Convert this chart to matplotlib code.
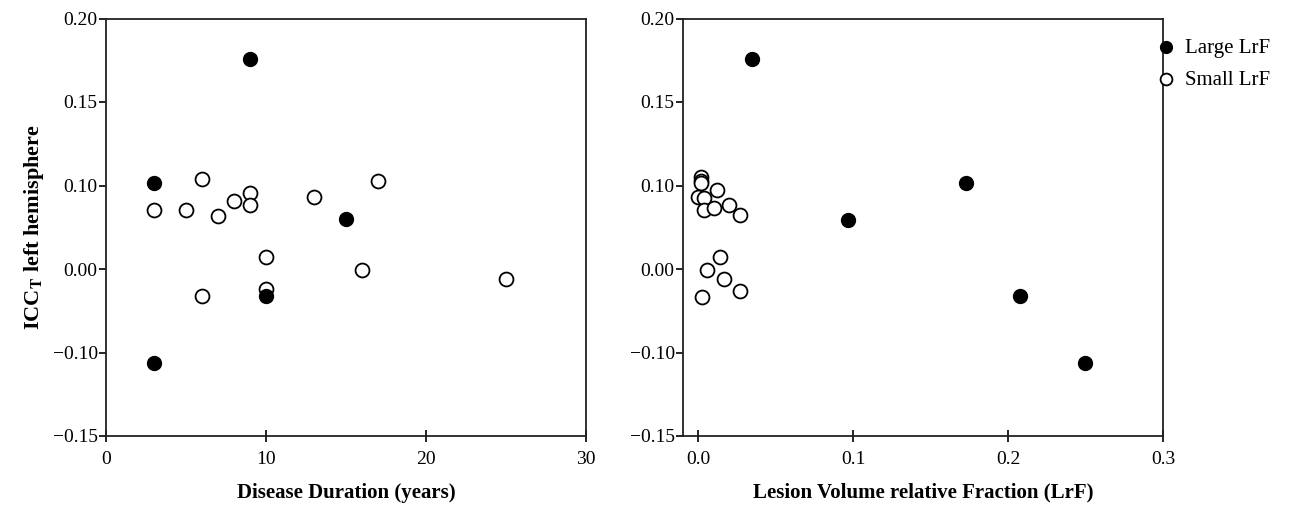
import numpy as np
import matplotlib
matplotlib.use("Agg")
import matplotlib.pyplot as plt

plt.rcParams['font.family'] = ['Liberation Serif', 'DejaVu Serif']
plt.rcParams['mathtext.fontset'] = 'stix'

# ---- data ----
# Left panel: disease duration (years) vs ICC_T
dur_large = [9, 3, 15, 10, 3]
icc_large = [0.176, 0.1015, 0.060, -0.0326, -0.106]
dur_small = [6, 17, 9, 13, 8, 9, 3, 5, 7, 10, 16, 25, 10, 6]
icc_small_dur = [0.104, 0.1025, 0.0914, 0.0866, 0.0818, 0.077, 0.0702, 0.0702,
                 0.0634, 0.014, -0.001, -0.0124, -0.0236, -0.0324]

# Right panel: LrF vs ICC_T
lrf_large = [0.0348, 0.0965, 0.1726, 0.2079, 0.2496]
icc_large_lrf = [0.176, 0.0582, 0.1015, -0.0326, -0.106]
lrf_small = [0.0016, 0.0016, 0.0016, 0.0, 0.0035, 0.0122, 0.0035, 0.0097,
             0.0200, 0.0268, 0.0138, 0.0052, 0.0165, 0.0271, 0.0022]
icc_small_lrf = [0.1049, 0.1029, 0.1013, 0.0866, 0.0846, 0.0946, 0.0706, 0.0726,
                 0.0766, 0.0646, 0.0144, -0.0012, -0.012, -0.0268, -0.0332]

ytick_vals = [-0.15, -0.10, 0.00, 0.10, 0.15, 0.20]
ytick_labels = ['\u22120.15', '\u22120.10', '0.00', '0.10', '0.15', '0.20']
xticks_left = [0, 10, 20, 30]
xticks_right = [0.0, 0.1, 0.2, 0.3]

# piecewise axis (the original's tick labels are evenly spaced)
_pos = np.arange(len(ytick_vals), dtype=float)
def fwd(v):
    return np.interp(v, ytick_vals, _pos)
def inv(p):
    return np.interp(p, _pos, ytick_vals)

W, H = 1304, 505
fig = plt.figure(figsize=(W / 100, H / 100), dpi=100)
axL = fig.add_axes([106 / W, 1 - 436 / H, 480 / W, 417.5 / H])
axR = fig.add_axes([683 / W, 1 - 436 / H, 480 / W, 417.5 / H])

ms = 100
for ax in (axL, axR):
    ax.set_yscale('function', functions=(fwd, inv))
    ax.set_ylim(-0.15, 0.20)
    ax.set_yticks(ytick_vals)
    ax.set_yticklabels(ytick_labels)
    ax.yaxis.set_minor_locator(matplotlib.ticker.NullLocator())
    for s in ax.spines.values():
        s.set_linewidth(1.3)
        s.set_color('#222222')
    ax.tick_params(axis='y', direction='out', length=5, width=1.2, labelsize=14, pad=1)
    ax.tick_params(axis='x', direction='inout', length=9, width=1.2, labelsize=14, pad=6)

axL.scatter(dur_small, icc_small_dur, s=ms, facecolors='white', edgecolors='black',
            linewidths=1.3, zorder=3)
axL.scatter(dur_large, icc_large, s=ms, color='black', zorder=4)
axL.set_xlim(0, 30)
axL.set_xticks(xticks_left)
axL.set_xlabel('Disease Duration (years)', fontsize=15, fontweight='bold', labelpad=11)
axL.set_ylabel('ICC$_{\\mathbf{T}}$ left hemisphere', fontsize=16, fontweight='bold', labelpad=5)

hs = axR.scatter(lrf_small, icc_small_lrf, s=ms, facecolors='white', edgecolors='black',
                 linewidths=1.3, zorder=3, label='Small LrF')
hl = axR.scatter(lrf_large, icc_large_lrf, s=ms, color='black', zorder=4, label='Large LrF')
axR.set_xlim(-0.01, 0.30)
axR.set_xticks(xticks_right)
axR.set_xticklabels(['0.0', '0.1', '0.2', '0.3'])
axR.set_xlabel('Lesion Volume relative Fraction (LrF)', fontsize=15, fontweight='bold', labelpad=11)

fig.legend(handles=[hl, hs], labels=['Large LrF', 'Small LrF'], loc='upper left',
           bbox_to_anchor=(1153 / W, 1 - 38 / H), frameon=False, fontsize=15,
           handletextpad=0.35, labelspacing=0.6, markerscale=0.85, borderaxespad=0,
           borderpad=0, handlelength=1.2)

fig.savefig('out.png', dpi=100)
